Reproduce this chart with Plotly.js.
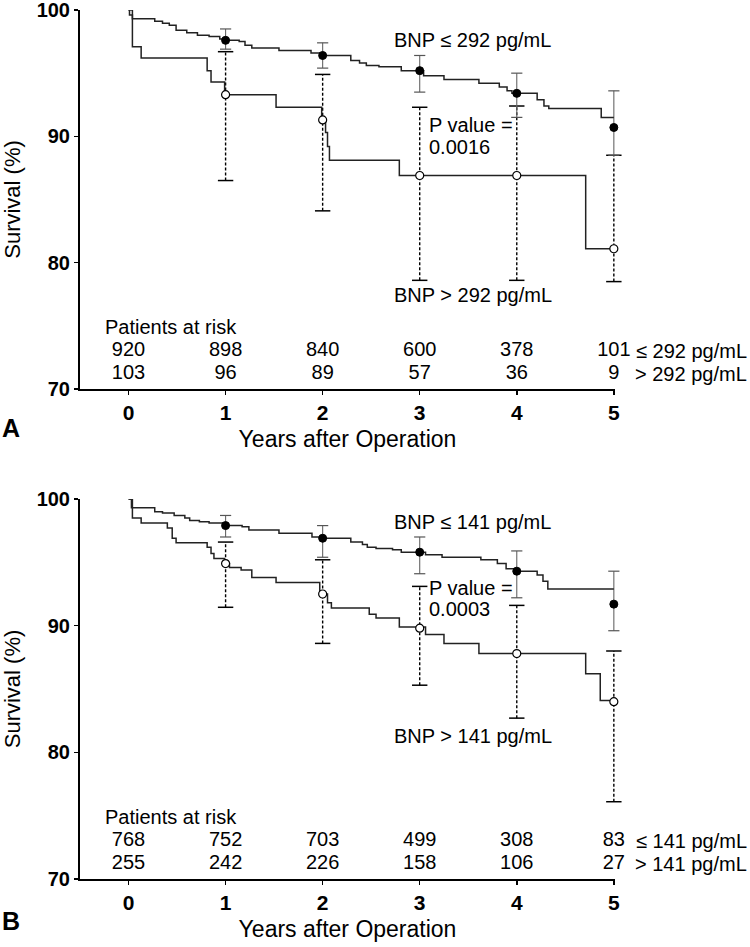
<!DOCTYPE html>
<html>
<head>
<meta charset="utf-8">
<script src="https://cdn.plot.ly/plotly-3.0.1.min.js"></script>
<style>html,body{margin:0;padding:0;background:#fff;}#chart{width:750px;height:947px;}</style>
</head>
<body>
<div id="chart"></div>
<script>
// ---------- DATA ----------
const years = [1, 2, 3, 4, 5];
const riskYears = [0, 1, 2, 3, 4, 5];

// Panel A: Kaplan-Meier steps (time, survival after the step)
const A_hi_t = [0, 0.01, 0.04, 0.27, 0.35, 0.42, 0.49, 0.6, 0.71, 0.83, 0.94, 1.0, 1.14, 1.2, 1.27, 1.55, 1.88, 1.97, 2.29, 2.38, 2.45, 2.58, 2.81, 3.04, 3.25, 3.61, 3.82, 3.9, 3.95, 4.21, 4.28, 4.33, 4.87, 5.0];
const A_hi_s = [100, 99.6, 99.3, 99.1, 98.95, 98.8, 98.4, 98.2, 98.0, 97.9, 97.7, 97.6, 97.5, 97.2, 97.0, 96.8, 96.6, 96.4, 96.0, 95.8, 95.6, 95.5, 95.2, 94.8, 94.5, 94.2, 93.9, 93.6, 93.4, 92.9, 92.4, 92.2, 91.5, 91.5];
const A_lo_t = [0, 0.04, 0.13, 0.81, 0.85, 0.99, 1.52, 1.99, 2.03, 2.05, 2.07, 2.79, 4.71, 5.0];
const A_lo_s = [100, 97.1, 96.2, 95.2, 94.3, 93.3, 92.3, 91.3, 90.3, 89.2, 88.1, 86.9, 81.1, 81.1];

const A_hi_mark = [97.6, 96.4, 95.2, 93.4, 90.7];
const A_hi_low = [96.9, 95.4, 93.5, 91.5, 88.5];
const A_hi_up = [98.5, 97.4, 96.4, 95.0, 93.6];
const A_lo_mark = [93.3, 91.3, 86.9, 86.9, 81.1];
const A_lo_low = [86.5, 84.1, 78.6, 78.6, 78.5];
const A_lo_up = [96.7, 94.9, 92.3, 92.4, 88.5];

const A_risk_hi = [920, 898, 840, 600, 378, 101];
const A_risk_lo = [103, 96, 89, 57, 36, 9];

// Panel B
const B_hi_t = [0, 0.03, 0.27, 0.35, 0.47, 0.58, 0.63, 0.73, 0.83, 0.97, 1.17, 1.24, 1.55, 1.89, 1.98, 2.29, 2.41, 2.46, 2.55, 2.72, 2.81, 3.06, 3.23, 3.63, 3.8, 3.89, 3.97, 4.21, 4.27, 4.32, 5.0];
const B_hi_s = [100, 99.3, 99.0, 98.9, 98.7, 98.5, 98.3, 98.2, 98.1, 97.9, 97.8, 97.55, 97.3, 97.0, 96.9, 96.6, 96.4, 96.2, 96.1, 96.0, 95.8, 95.6, 95.4, 95.2, 94.9, 94.5, 94.3, 94.0, 93.5, 92.9, 92.9];
const B_lo_t = [0, 0.04, 0.13, 0.4, 0.45, 0.49, 0.81, 0.85, 0.88, 0.99, 1.04, 1.16, 1.27, 1.52, 1.97, 2.05, 2.09, 2.48, 2.55, 2.79, 3.06, 3.25, 3.61, 4.71, 4.86, 5.0];
const B_lo_s = [100, 98.5, 98.1, 97.7, 96.9, 96.55, 96.2, 95.7, 95.3, 94.9, 94.6, 94.4, 93.8, 93.4, 92.5, 91.8, 91.4, 90.9, 90.6, 89.9, 89.3, 88.6, 87.8, 86.2, 84.1, 84.1];

const B_hi_mark = [97.9, 96.9, 95.8, 94.3, 91.7];
const B_hi_low = [97.0, 95.4, 94.1, 92.2, 89.6];
const B_hi_up = [98.7, 97.9, 97.0, 95.9, 94.3];
const B_lo_mark = [94.9, 92.5, 89.8, 87.8, 84.0];
const B_lo_low = [91.45, 88.6, 85.3, 82.7, 76.1];
const B_lo_up = [96.6, 95.2, 93.1, 91.6, 88.0];

const B_risk_hi = [768, 752, 703, 499, 308, 83];
const B_risk_lo = [255, 242, 226, 158, 106, 27];

// ---------- BUILD ----------
const FONT = "Liberation Sans, Arial, Helvetica, sans-serif";
const traces = [];

function segs(xs, lo, hi) {
  const x = [], y = [];
  xs.forEach((v, i) => { x.push(v, v, null); y.push(lo[i], hi[i], null); });
  return {x, y};
}

function addPanel(xa, ya, hiT, hiS, loT, loS, hiM, hiL, hiU, loM, loL, loU, rHi, rLo) {
  const common = {xaxis: xa, yaxis: ya, showlegend: false, hoverinfo: 'skip', cliponaxis: false};
  // dashed error bars (high BNP group)
  const d = segs(years, loL, loU);
  traces.push(Object.assign({x: d.x, y: d.y, mode: 'lines',
    line: {color: '#000', width: 1.4, dash: '3px,2px'}}, common));
  traces.push(Object.assign({x: years.concat(years), y: loL.concat(loU), mode: 'markers',
    marker: {symbol: 'line-ew', size: 11, line: {color: '#000', width: 1.5}}}, common));
  // solid error bars (low BNP group)
  const s = segs(years, hiL, hiU);
  traces.push(Object.assign({x: s.x, y: s.y, mode: 'lines',
    line: {color: '#666', width: 1.1}}, common));
  traces.push(Object.assign({x: years.concat(years), y: hiL.concat(hiU), mode: 'markers',
    marker: {symbol: 'line-ew', size: 8, line: {color: '#555', width: 1.2}}}, common));
  // KM curves
  traces.push(Object.assign({x: hiT, y: hiS, mode: 'lines', line: {shape: 'hv', color: '#222', width: 1.5}}, common));
  traces.push(Object.assign({x: loT, y: loS, mode: 'lines', line: {shape: 'hv', color: '#222', width: 1.5}}, common));
  // markers
  traces.push(Object.assign({x: years, y: hiM, mode: 'markers',
    marker: {symbol: 'circle', size: 8, color: '#000', line: {color: '#000', width: 1}}}, common));
  traces.push(Object.assign({x: years, y: loM, mode: 'markers',
    marker: {symbol: 'circle', size: 8, color: '#fff', line: {color: '#000', width: 1.2}}}, common));
  // patients at risk numbers
  traces.push(Object.assign({x: riskYears, y: riskYears.map(() => 73.0), text: rHi.map(String),
    mode: 'text', textposition: 'middle center',
    textfont: {family: FONT, size: 20, color: '#000'}}, common));
  traces.push(Object.assign({x: riskYears, y: riskYears.map(() => 71.2), text: rLo.map(String),
    mode: 'text', textposition: 'middle center',
    textfont: {family: FONT, size: 20, color: '#000'}}, common));
}

addPanel('x', 'y', A_hi_t, A_hi_s, A_lo_t, A_lo_s, A_hi_mark, A_hi_low, A_hi_up, A_lo_mark, A_lo_low, A_lo_up, A_risk_hi, A_risk_lo);
addPanel('x2', 'y2', B_hi_t, B_hi_s, B_lo_t, B_lo_s, B_hi_mark, B_hi_low, B_hi_up, B_lo_mark, B_lo_low, B_lo_up, B_risk_hi, B_risk_lo);

function xAxis(anchor) {
  return {
    anchor: anchor, domain: [0, 1], range: [-0.5, 5.012], tickvals: [0, 1, 2, 3, 4, 5],
    showline: true, linecolor: '#000', linewidth: 2, ticks: 'outside', ticklen: 4, tickwidth: 1.5, tickcolor: '#000',
    showgrid: false, zeroline: false, ticklabeloverflow: 'allow',
    tickfont: {family: FONT, size: 21, color: '#000', weight: 700},
    title: {text: 'Years after Operation', font: {family: FONT, size: 23, color: '#000'}, standoff: 8}
  };
}
function yAxis(anchor, domain) {
  return {
    anchor: anchor, domain: domain, range: [70, 100], tickvals: [70, 80, 90, 100],
    showline: true, linecolor: '#000', linewidth: 2, ticks: 'outside', ticklen: 4, tickwidth: 1.5, tickcolor: '#000',
    showgrid: false, zeroline: false, ticklabeloverflow: 'allow',
    tickfont: {family: FONT, size: 20, color: '#000', weight: 700},
    title: {text: 'Survival (%)', font: {family: FONT, size: 22, color: '#000'}, standoff: 11}
  };
}

const ann = [];
function txt(xref, yref, x, y, text, xanchor, opts) {
  ann.push(Object.assign({xref, yref, x, y, text, xanchor, yanchor: 'middle', showarrow: false,
    font: {family: FONT, size: 20, color: '#000'}, align: 'left'}, opts || {}));
}
const PANEL_FONT = {family: FONT, size: 25, color: '#000', weight: 700};
// Panel A texts
txt('x', 'y', 2.71, 97.6, 'BNP ≤ 292 pg/mL', 'left');
txt('x', 'y', 2.71, 77.4, 'BNP &gt; 292 pg/mL', 'left');
txt('x', 'y', 3.08, 90.87, 'P value =', 'left');
txt('x', 'y', 3.08, 89.15, '0.0016', 'left');
txt('x', 'y', -0.26, 74.9, 'Patients at risk', 'left');
txt('paper', 'y', 1.2505, 73.0, '≤ 292 pg/mL', 'right');
txt('paper', 'y', 1.2505, 71.2, '&gt; 292 pg/mL', 'right');
txt('paper', 'paper', -0.1495, 0.519, 'A', 'left', {font: PANEL_FONT});
// Panel B texts
txt('x2', 'y2', 2.71, 98.2, 'BNP ≤ 141 pg/mL', 'left');
txt('x2', 'y2', 2.71, 81.3, 'BNP &gt; 141 pg/mL', 'left');
txt('x2', 'y2', 3.08, 92.95, 'P value =', 'left');
txt('x2', 'y2', 3.08, 91.35, '0.0003', 'left');
txt('x2', 'y2', -0.26, 74.9, 'Patients at risk', 'left');
txt('paper', 'y2', 1.2505, 73.0, '≤ 141 pg/mL', 'right');
txt('paper', 'y2', 1.2505, 71.2, '&gt; 141 pg/mL', 'right');
txt('paper', 'paper', -0.1495, -0.0489, 'B', 'left', {font: PANEL_FONT});

const layout = {
  width: 750, height: 947,
  margin: {l: 80, r: 135, t: 10, b: 68},
  paper_bgcolor: '#fff', plot_bgcolor: '#fff',
  font: {family: FONT, color: '#000'},
  showlegend: false,
  xaxis: xAxis('y'),
  yaxis: yAxis('x', [0.5639, 1]),
  xaxis2: xAxis('y2'),
  yaxis2: yAxis('x2', [0, 0.4373]),
  annotations: ann
};

Plotly.newPlot('chart', traces, layout, {displayModeBar: false, staticPlot: true});
</script>
</body>
</html>
